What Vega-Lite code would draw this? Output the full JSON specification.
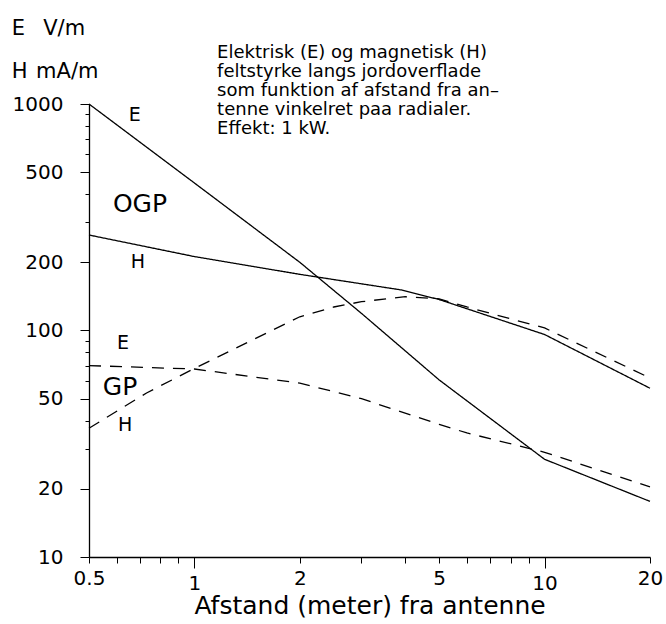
{
  "$schema": "https://vega.github.io/schema/vega-lite/v6.json",
  "width": 561,
  "height": 453,
  "autosize": {"type": "none"},
  "padding": {"left": 89, "top": 104, "right": 16, "bottom": 67},
  "background": "white",
  "config": {"view": {"stroke": null}, "font": "DejaVu Sans"},
  "datasets": {
    "curves": [
      {"series": "OGP E", "kind": "OGP", "d": 0.5, "v": 1000},
      {"series": "OGP E", "kind": "OGP", "d": 1, "v": 448},
      {"series": "OGP E", "kind": "OGP", "d": 2, "v": 200},
      {"series": "OGP E", "kind": "OGP", "d": 3, "v": 119},
      {"series": "OGP E", "kind": "OGP", "d": 5, "v": 60.5},
      {"series": "OGP E", "kind": "OGP", "d": 10, "v": 27},
      {"series": "OGP E", "kind": "OGP", "d": 20, "v": 17.6},
      {"series": "OGP H", "kind": "OGP", "d": 0.5, "v": 264},
      {"series": "OGP H", "kind": "OGP", "d": 1, "v": 212},
      {"series": "OGP H", "kind": "OGP", "d": 2, "v": 177},
      {"series": "OGP H", "kind": "OGP", "d": 3.9, "v": 151},
      {"series": "OGP H", "kind": "OGP", "d": 5, "v": 137},
      {"series": "OGP H", "kind": "OGP", "d": 10, "v": 96},
      {"series": "OGP H", "kind": "OGP", "d": 20, "v": 55.6},
      {"series": "GP E", "kind": "GP", "d": 0.5, "v": 70},
      {"series": "GP E", "kind": "GP", "d": 1, "v": 67.6},
      {"series": "GP E", "kind": "GP", "d": 2, "v": 58.6},
      {"series": "GP E", "kind": "GP", "d": 3, "v": 50},
      {"series": "GP E", "kind": "GP", "d": 5, "v": 38.5},
      {"series": "GP E", "kind": "GP", "d": 6, "v": 35.3},
      {"series": "GP E", "kind": "GP", "d": 10, "v": 29},
      {"series": "GP E", "kind": "GP", "d": 20, "v": 20.4},
      {"series": "GP H", "kind": "GP", "d": 0.5, "v": 37},
      {"series": "GP H", "kind": "GP", "d": 0.73, "v": 53},
      {"series": "GP H", "kind": "GP", "d": 1, "v": 68},
      {"series": "GP H", "kind": "GP", "d": 2, "v": 115},
      {"series": "GP H", "kind": "GP", "d": 2.5, "v": 127},
      {"series": "GP H", "kind": "GP", "d": 3, "v": 134},
      {"series": "GP H", "kind": "GP", "d": 4, "v": 141},
      {"series": "GP H", "kind": "GP", "d": 5, "v": 138},
      {"series": "GP H", "kind": "GP", "d": 6, "v": 127},
      {"series": "GP H", "kind": "GP", "d": 10, "v": 102.6},
      {"series": "GP H", "kind": "GP", "d": 20, "v": 61.7}
    ],
    "small": [
      {"t": "E", "d": 0.676, "v": 895},
      {"t": "H", "d": 0.69, "v": 200},
      {"t": "E", "d": 0.625, "v": 88},
      {"t": "H", "d": 0.634, "v": 38.3}
    ],
    "big": [
      {"t": "OGP", "d": 0.699, "v": 362},
      {"t": "GP", "d": 0.613, "v": 56.3}
    ],
    "units": [
      {"t": "E", "d": 0.301, "v": 2143},
      {"t": "V/m", "d": 0.37, "v": 2143},
      {"t": "H", "d": 0.301, "v": 1384},
      {"t": "mA/m", "d": 0.353, "v": 1384}
    ],
    "block": [
      {"t": "Elektrisk (E) og magnetisk (H)", "d": 1.161, "v": 1680},
      {"t": "feltstyrke langs jordoverflade", "d": 1.161, "v": 1384},
      {"t": "som funktion af afstand fra an\u2013", "d": 1.161, "v": 1141},
      {"t": "tenne vinkelret paa radialer.", "d": 1.161, "v": 941},
      {"t": "Effekt: 1 kW.", "d": 1.161, "v": 776}
    ]
  },
  "layer": [
    {
      "data": {"name": "curves"},
      "mark": {"type": "line", "color": "black", "strokeWidth": 1.3},
      "encoding": {
        "x": {
          "field": "d", "type": "quantitative",
          "scale": {"type": "log", "domain": [0.5, 20], "nice": false},
          "axis": {
            "title": "Afstand (meter) fra antenne",
            "titleFontSize": 25, "titleFontWeight": "normal", "titleColor": "black", "titlePadding": 0,
            "values": [0.5, 0.6, 0.7, 0.8, 0.9, 1, 2, 3, 4, 5, 6, 7, 8, 9, 10, 20],
            "format": "~g",
            "labelExpr": "indexof([0.5, 1, 2, 5, 10, 20], datum.value) >= 0 ? datum.label : ''",
            "labelFontSize": 20, "labelColor": "black", "labelPadding": 5,
            "labelFlush": false, "labelOverlap": false,
            "tickColor": "black", "domainColor": "black", "domainWidth": 1.5,
            "tickSize": {"condition": {"test": "datum.value == 1 || datum.value == 10", "value": 11}, "value": 6},
            "grid": false
          }
        },
        "y": {
          "field": "v", "type": "quantitative",
          "scale": {"type": "log", "domain": [10, 1000], "nice": false},
          "axis": {
            "title": null,
            "values": [10, 20, 30, 40, 50, 60, 70, 80, 90, 100, 200, 300, 400, 500, 600, 700, 800, 900, 1000],
            "format": "~g",
            "labelExpr": "indexof([10, 20, 50, 100, 200, 500, 1000], datum.value) >= 0 ? datum.label : ''",
            "labelFontSize": 20, "labelColor": "black", "labelPadding": 17,
            "labelOverlap": false, "labelFlush": false,
            "tickColor": "black", "domainColor": "black", "domainWidth": 1.3,
            "tickSize": {"condition": {"test": "indexof([10, 20, 50, 100, 200, 500, 1000], datum.value) >= 0", "value": 9}, "value": 4},
            "grid": false
          }
        },
        "detail": {"field": "series"},
        "strokeDash": {
          "field": "kind", "type": "nominal",
          "scale": {"domain": ["OGP", "GP"], "range": [[1, 0], [12, 9]]},
          "legend": null
        }
      }
    },
    {
      "data": {"name": "small"},
      "mark": {"type": "text", "fontSize": 19, "color": "black", "align": "center", "baseline": "middle"},
      "encoding": {
        "x": {"field": "d", "type": "quantitative", "scale": {"type": "log", "domain": [0.5, 20], "nice": false}},
        "y": {"field": "v", "type": "quantitative", "scale": {"type": "log", "domain": [10, 1000], "nice": false}},
        "text": {"field": "t"}
      }
    },
    {
      "data": {"name": "big"},
      "mark": {"type": "text", "fontSize": 25, "color": "black", "align": "center", "baseline": "middle"},
      "encoding": {
        "x": {"field": "d", "type": "quantitative", "scale": {"type": "log", "domain": [0.5, 20], "nice": false}},
        "y": {"field": "v", "type": "quantitative", "scale": {"type": "log", "domain": [10, 1000], "nice": false}},
        "text": {"field": "t"}
      }
    },
    {
      "data": {"name": "units"},
      "mark": {"type": "text", "fontSize": 21, "color": "black", "align": "left", "baseline": "middle"},
      "encoding": {
        "x": {"field": "d", "type": "quantitative", "scale": {"type": "log", "domain": [0.5, 20], "nice": false}},
        "y": {"field": "v", "type": "quantitative", "scale": {"type": "log", "domain": [10, 1000], "nice": false}},
        "text": {"field": "t"}
      }
    },
    {
      "data": {"name": "block"},
      "mark": {"type": "text", "fontSize": 18, "color": "black", "align": "left", "baseline": "middle"},
      "encoding": {
        "x": {"field": "d", "type": "quantitative", "scale": {"type": "log", "domain": [0.5, 20], "nice": false}},
        "y": {"field": "v", "type": "quantitative", "scale": {"type": "log", "domain": [10, 1000], "nice": false}},
        "text": {"field": "t"}
      }
    }
  ]
}
